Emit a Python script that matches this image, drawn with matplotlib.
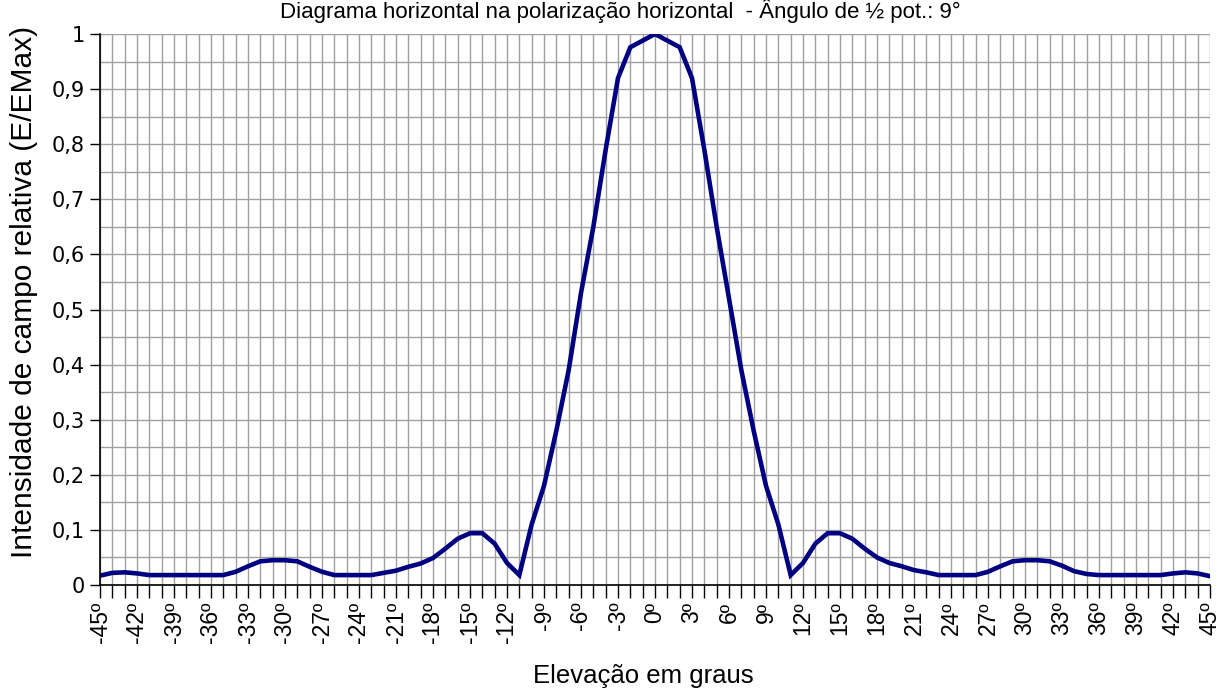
import matplotlib.pyplot as plt
from matplotlib.ticker import MultipleLocator, FixedLocator

plt.rcParams['font.family'] = ['Liberation Sans', 'DejaVu Sans']

angulos = list(range(-45, 46))
intensidade = [
    0.017, 0.022, 0.023, 0.021, 0.018, 0.018, 0.018, 0.018, 0.018, 0.018,   # -45..-36
    0.018, 0.024, 0.034, 0.043, 0.045, 0.045, 0.043, 0.033, 0.024, 0.018,   # -35..-26
    0.018, 0.018, 0.018, 0.022, 0.026, 0.033, 0.039, 0.049, 0.066, 0.084,   # -25..-16
    0.094, 0.094, 0.075, 0.040, 0.018, 0.110, 0.180, 0.280, 0.390, 0.530,   # -15..-6
    0.650, 0.790, 0.920, 0.976, 0.988, 1.000, 0.988, 0.976, 0.920, 0.790,   # -5..4
    0.650, 0.520, 0.390, 0.280, 0.180, 0.110, 0.018, 0.040, 0.075, 0.094,   # 5..14
    0.094, 0.084, 0.066, 0.050, 0.040, 0.034, 0.027, 0.023, 0.018, 0.018,   # 15..24
    0.018, 0.018, 0.024, 0.034, 0.043, 0.045, 0.045, 0.043, 0.035, 0.025,   # 25..34
    0.020, 0.018, 0.018, 0.018, 0.018, 0.018, 0.018, 0.021, 0.023, 0.021,   # 35..44
    0.016,                                                                  # 45
]
rotulos_x = [f'{a}º' if a % 3 == 0 else '' for a in angulos]
valores_y = [v / 10 for v in range(11)]
rotulos_y = ['0', '0,1', '0,2', '0,3', '0,4', '0,5', '0,6', '0,7', '0,8', '0,9', '1']
titulo = 'Diagrama horizontal na polarização horizontal  - Ângulo de ½ pot.: 9°'

fig = plt.figure(figsize=(12.2, 6.9), dpi=100)
ax = fig.add_axes([100 / 1220, 105 / 690, 1110 / 1220, 551 / 690])

ax.plot(angulos, intensidade, color='#000080', linewidth=3.3, solid_joinstyle='miter', zorder=3)

ax.set_xlim(-45, 45)
ax.set_ylim(0, 1)
ax.xaxis.set_major_locator(FixedLocator(angulos))
ax.set_xticklabels(rotulos_x, rotation=90, fontsize=16.5)
ax.set_yticks(valores_y)
ax.set_yticklabels(rotulos_y, fontsize=15, family='DejaVu Sans')
ax.yaxis.set_minor_locator(MultipleLocator(0.05))

ax.grid(True, which='both', color='#a0a0a0', linewidth=1)
ax.set_axisbelow(True)
ax.tick_params(axis='x', length=9, width=1, direction='out', pad=3)
ax.tick_params(axis='y', which='major', length=7, width=1, direction='out', pad=4)
ax.tick_params(axis='y', which='minor', length=0)

for s in ['top', 'right']:
    ax.spines[s].set_visible(False)
for s in ['left', 'bottom']:
    ax.spines[s].set_color('black')
    ax.spines[s].set_linewidth(1.2)
    ax.spines[s].set_zorder(4)

fig.text(620 / 1220, 1 - 11 / 690, titulo, ha='center', va='center', fontsize=16)
fig.text(643 / 1220, 1 - 676 / 690, 'Elevação em graus', ha='center', va='center', fontsize=18.5)
fig.text(24 / 1220, 1 - 292 / 690, 'Intensidade de campo relativa (E/EMax)', ha='center',
         va='center', rotation=90, fontsize=21.5)

fig.savefig('out.png', dpi=100)
